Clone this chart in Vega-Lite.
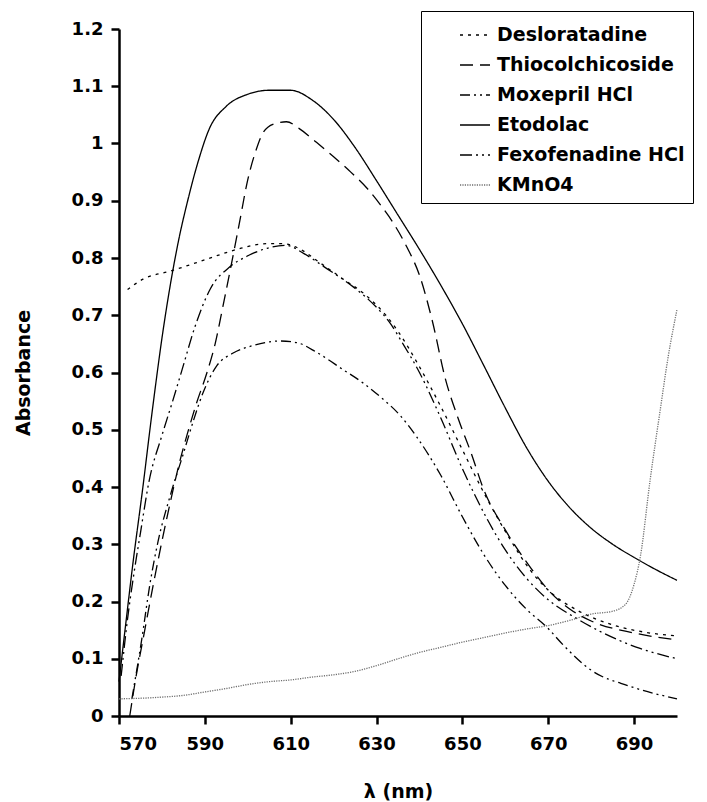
{
  "$schema": "https://vega.github.io/schema/vega-lite/v6.json",
  "autosize": {"type": "none"},
  "padding": {"left": 119, "top": 29, "right": 30, "bottom": 86},
  "width": 558,
  "height": 687,
  "background": "white",
  "config": {
    "view": {"stroke": null},
    "axis": {
      "domainColor": "black", "domainWidth": 2.5, "tickColor": "black", "tickWidth": 2.5, "tickSize": 8,
      "labelFont": "DejaVu Sans", "labelFontWeight": "bold", "labelFontSize": 18, "labelColor": "black",
      "titleFont": "DejaVu Sans", "titleFontWeight": "bold", "titleFontSize": 19, "titleColor": "black",
      "grid": false
    },
    "legend": {
      "orient": "none", "legendX": 302, "legendY": -18,
      "strokeColor": "black", "fillColor": "white", "padding": 8,
      "symbolOffset": 30, "symbolSize": 900, "symbolType": "stroke", "labelOffset": 6,
      "labelFont": "DejaVu Sans", "labelFontWeight": "bold", "labelFontSize": 19, "labelColor": "black",
      "rowPadding": 4, "labelLimit": 400
    }
  },
  "data": {"values": [
    {"s":"Desloratadine","x":572,"y":0.745},{"s":"Desloratadine","x":575.6,"y":0.763},{"s":"Desloratadine","x":581.9,"y":0.777},{"s":"Desloratadine","x":588.1,"y":0.792},{"s":"Desloratadine","x":592.8,"y":0.804},{"s":"Desloratadine","x":598.9,"y":0.818},{"s":"Desloratadine","x":604.5,"y":0.825},{"s":"Desloratadine","x":608.2,"y":0.825},{"s":"Desloratadine","x":613,"y":0.812},{"s":"Desloratadine","x":616,"y":0.796},{"s":"Desloratadine","x":621.5,"y":0.767},{"s":"Desloratadine","x":627.8,"y":0.733},{"s":"Desloratadine","x":632.4,"y":0.698},{"s":"Desloratadine","x":635,"y":0.672},{"s":"Desloratadine","x":640,"y":0.61},{"s":"Desloratadine","x":645,"y":0.54},{"s":"Desloratadine","x":650,"y":0.465},{"s":"Desloratadine","x":655,"y":0.39},{"s":"Desloratadine","x":661,"y":0.31},{"s":"Desloratadine","x":666,"y":0.253},{"s":"Desloratadine","x":671,"y":0.213},{"s":"Desloratadine","x":676.7,"y":0.185},{"s":"Desloratadine","x":686,"y":0.157},{"s":"Desloratadine","x":692,"y":0.147},{"s":"Desloratadine","x":700,"y":0.14},
    {"s":"Thiocolchicoside","x":572.5,"y":0},{"s":"Thiocolchicoside","x":574,"y":0.07},{"s":"Thiocolchicoside","x":576,"y":0.15},{"s":"Thiocolchicoside","x":578,"y":0.23},{"s":"Thiocolchicoside","x":580,"y":0.305},{"s":"Thiocolchicoside","x":582,"y":0.375},{"s":"Thiocolchicoside","x":584,"y":0.44},{"s":"Thiocolchicoside","x":586,"y":0.495},{"s":"Thiocolchicoside","x":588,"y":0.545},{"s":"Thiocolchicoside","x":590.5,"y":0.6},{"s":"Thiocolchicoside","x":592.4,"y":0.65},{"s":"Thiocolchicoside","x":594.2,"y":0.715},{"s":"Thiocolchicoside","x":596.6,"y":0.805},{"s":"Thiocolchicoside","x":598.2,"y":0.867},{"s":"Thiocolchicoside","x":599.8,"y":0.93},{"s":"Thiocolchicoside","x":602,"y":0.99},{"s":"Thiocolchicoside","x":603.5,"y":1.018},{"s":"Thiocolchicoside","x":606,"y":1.034},{"s":"Thiocolchicoside","x":609,"y":1.038},{"s":"Thiocolchicoside","x":612,"y":1.026},{"s":"Thiocolchicoside","x":616,"y":1.002},{"s":"Thiocolchicoside","x":620,"y":0.977},{"s":"Thiocolchicoside","x":624,"y":0.95},{"s":"Thiocolchicoside","x":628,"y":0.92},{"s":"Thiocolchicoside","x":631,"y":0.892},{"s":"Thiocolchicoside","x":634,"y":0.86},{"s":"Thiocolchicoside","x":637,"y":0.82},{"s":"Thiocolchicoside","x":640,"y":0.77},{"s":"Thiocolchicoside","x":643,"y":0.69},{"s":"Thiocolchicoside","x":646,"y":0.59},{"s":"Thiocolchicoside","x":649,"y":0.52},{"s":"Thiocolchicoside","x":652,"y":0.46},{"s":"Thiocolchicoside","x":655,"y":0.395},{"s":"Thiocolchicoside","x":660,"y":0.325},{"s":"Thiocolchicoside","x":666,"y":0.258},{"s":"Thiocolchicoside","x":670,"y":0.22},{"s":"Thiocolchicoside","x":675,"y":0.187},{"s":"Thiocolchicoside","x":680,"y":0.166},{"s":"Thiocolchicoside","x":690,"y":0.145},{"s":"Thiocolchicoside","x":700,"y":0.133},
    {"s":"Moxepril HCl","x":573,"y":0.03},{"s":"Moxepril HCl","x":575.3,"y":0.134},{"s":"Moxepril HCl","x":577.2,"y":0.23},{"s":"Moxepril HCl","x":579.1,"y":0.305},{"s":"Moxepril HCl","x":581.9,"y":0.384},{"s":"Moxepril HCl","x":584.9,"y":0.456},{"s":"Moxepril HCl","x":587.3,"y":0.515},{"s":"Moxepril HCl","x":589.6,"y":0.565},{"s":"Moxepril HCl","x":592.8,"y":0.612},{"s":"Moxepril HCl","x":596.6,"y":0.634},{"s":"Moxepril HCl","x":601.2,"y":0.647},{"s":"Moxepril HCl","x":607.5,"y":0.655},{"s":"Moxepril HCl","x":611.5,"y":0.652},{"s":"Moxepril HCl","x":616.1,"y":0.635},{"s":"Moxepril HCl","x":622.2,"y":0.605},{"s":"Moxepril HCl","x":627,"y":0.581},{"s":"Moxepril HCl","x":630.8,"y":0.558},{"s":"Moxepril HCl","x":635.5,"y":0.525},{"s":"Moxepril HCl","x":639.4,"y":0.487},{"s":"Moxepril HCl","x":645,"y":0.42},{"s":"Moxepril HCl","x":650,"y":0.348},{"s":"Moxepril HCl","x":655,"y":0.282},{"s":"Moxepril HCl","x":660,"y":0.228},{"s":"Moxepril HCl","x":665,"y":0.186},{"s":"Moxepril HCl","x":669.7,"y":0.155},{"s":"Moxepril HCl","x":673.5,"y":0.124},{"s":"Moxepril HCl","x":680,"y":0.08},{"s":"Moxepril HCl","x":689,"y":0.052},{"s":"Moxepril HCl","x":700,"y":0.03},
    {"s":"Etodolac","x":570,"y":0.06},{"s":"Etodolac","x":571.4,"y":0.15},{"s":"Etodolac","x":573.3,"y":0.27},{"s":"Etodolac","x":575.4,"y":0.39},{"s":"Etodolac","x":577.7,"y":0.53},{"s":"Etodolac","x":580.3,"y":0.675},{"s":"Etodolac","x":582,"y":0.755},{"s":"Etodolac","x":584,"y":0.835},{"s":"Etodolac","x":586,"y":0.9},{"s":"Etodolac","x":588.5,"y":0.97},{"s":"Etodolac","x":591,"y":1.025},{"s":"Etodolac","x":595,"y":1.065},{"s":"Etodolac","x":600,"y":1.086},{"s":"Etodolac","x":605,"y":1.093},{"s":"Etodolac","x":610,"y":1.093},{"s":"Etodolac","x":615,"y":1.076},{"s":"Etodolac","x":620,"y":1.042},{"s":"Etodolac","x":625,"y":0.993},{"s":"Etodolac","x":630,"y":0.935},{"s":"Etodolac","x":635,"y":0.875},{"s":"Etodolac","x":640,"y":0.815},{"s":"Etodolac","x":645,"y":0.752},{"s":"Etodolac","x":650,"y":0.685},{"s":"Etodolac","x":655,"y":0.612},{"s":"Etodolac","x":660,"y":0.538},{"s":"Etodolac","x":665,"y":0.468},{"s":"Etodolac","x":670,"y":0.41},{"s":"Etodolac","x":675,"y":0.364},{"s":"Etodolac","x":680,"y":0.328},{"s":"Etodolac","x":685,"y":0.3},{"s":"Etodolac","x":690,"y":0.277},{"s":"Etodolac","x":695,"y":0.256},{"s":"Etodolac","x":700,"y":0.237},
    {"s":"Fexofenadine HCl","x":570.5,"y":0.07},{"s":"Fexofenadine HCl","x":572,"y":0.17},{"s":"Fexofenadine HCl","x":573.5,"y":0.25},{"s":"Fexofenadine HCl","x":575,"y":0.32},{"s":"Fexofenadine HCl","x":577,"y":0.41},{"s":"Fexofenadine HCl","x":580,"y":0.49},{"s":"Fexofenadine HCl","x":582.5,"y":0.55},{"s":"Fexofenadine HCl","x":584.7,"y":0.605},{"s":"Fexofenadine HCl","x":587.7,"y":0.68},{"s":"Fexofenadine HCl","x":591.2,"y":0.745},{"s":"Fexofenadine HCl","x":595.9,"y":0.785},{"s":"Fexofenadine HCl","x":599.8,"y":0.803},{"s":"Fexofenadine HCl","x":604.5,"y":0.817},{"s":"Fexofenadine HCl","x":609.1,"y":0.822},{"s":"Fexofenadine HCl","x":613,"y":0.808},{"s":"Fexofenadine HCl","x":618.5,"y":0.781},{"s":"Fexofenadine HCl","x":624.5,"y":0.75},{"s":"Fexofenadine HCl","x":630.1,"y":0.713},{"s":"Fexofenadine HCl","x":633,"y":0.688},{"s":"Fexofenadine HCl","x":636,"y":0.652},{"s":"Fexofenadine HCl","x":640,"y":0.6},{"s":"Fexofenadine HCl","x":645,"y":0.52},{"s":"Fexofenadine HCl","x":650,"y":0.432},{"s":"Fexofenadine HCl","x":655.7,"y":0.345},{"s":"Fexofenadine HCl","x":660,"y":0.29},{"s":"Fexofenadine HCl","x":665,"y":0.24},{"s":"Fexofenadine HCl","x":670,"y":0.203},{"s":"Fexofenadine HCl","x":676.7,"y":0.17},{"s":"Fexofenadine HCl","x":682,"y":0.148},{"s":"Fexofenadine HCl","x":691.4,"y":0.118},{"s":"Fexofenadine HCl","x":700,"y":0.1},
    {"s":"KMnO4","x":570,"y":0.03},{"s":"KMnO4","x":575,"y":0.031},{"s":"KMnO4","x":580,"y":0.033},{"s":"KMnO4","x":585,"y":0.036},{"s":"KMnO4","x":590,"y":0.042},{"s":"KMnO4","x":595,"y":0.048},{"s":"KMnO4","x":600,"y":0.055},{"s":"KMnO4","x":605,"y":0.06},{"s":"KMnO4","x":610,"y":0.063},{"s":"KMnO4","x":615,"y":0.068},{"s":"KMnO4","x":620,"y":0.072},{"s":"KMnO4","x":625,"y":0.078},{"s":"KMnO4","x":630,"y":0.088},{"s":"KMnO4","x":635,"y":0.1},{"s":"KMnO4","x":640,"y":0.111},{"s":"KMnO4","x":645,"y":0.12},{"s":"KMnO4","x":650,"y":0.129},{"s":"KMnO4","x":655,"y":0.137},{"s":"KMnO4","x":660,"y":0.145},{"s":"KMnO4","x":665,"y":0.152},{"s":"KMnO4","x":670,"y":0.158},{"s":"KMnO4","x":675,"y":0.167},{"s":"KMnO4","x":680,"y":0.178},{"s":"KMnO4","x":685,"y":0.183},{"s":"KMnO4","x":688,"y":0.195},{"s":"KMnO4","x":690,"y":0.23},{"s":"KMnO4","x":691.5,"y":0.28},{"s":"KMnO4","x":693.7,"y":0.41},{"s":"KMnO4","x":696,"y":0.53},{"s":"KMnO4","x":698,"y":0.63},{"s":"KMnO4","x":700,"y":0.71}
  ]},
  "mark": {"type": "line", "interpolate": "monotone"},
  "encoding": {
    "x": {"field": "x", "type": "quantitative", "scale": {"domain": [570, 700], "nice": false, "zero": false},
      "axis": {"values": [570, 590, 610, 630, 650, 670, 690], "title": "λ (nm)", "labelPadding": 11, "titlePadding": 29}},
    "y": {"field": "y", "type": "quantitative", "scale": {"domain": [0, 1.2], "nice": false},
      "axis": {"values": [0, 0.1, 0.2, 0.3, 0.4, 0.5, 0.6, 0.7, 0.8, 0.9, 1, 1.1, 1.2], "format": ".1~f", "title": "Absorbance", "labelPadding": 8, "titlePadding": 38}},
    "color": {"field": "s", "type": "nominal", "legend": {"title": null},
      "scale": {"domain": ["Desloratadine", "Thiocolchicoside", "Moxepril HCl", "Etodolac", "Fexofenadine HCl", "KMnO4"],
        "range": ["#000000", "#000000", "#000000", "#000000", "#000000", "#6e6e6e"]}},
    "strokeDash": {"field": "s", "type": "nominal", "legend": {"title": null},
      "scale": {"domain": ["Desloratadine", "Thiocolchicoside", "Moxepril HCl", "Etodolac", "Fexofenadine HCl", "KMnO4"],
        "range": [[3, 5], [13, 7], [10, 4, 2, 4, 2, 4], [1, 0], [12, 4, 2, 4, 2, 4], [1.2, 1.2]]}},
    "strokeWidth": {"field": "s", "type": "nominal", "legend": {"title": null},
      "scale": {"domain": ["Desloratadine", "Thiocolchicoside", "Moxepril HCl", "Etodolac", "Fexofenadine HCl", "KMnO4"],
        "range": [1.3, 1.3, 1.3, 1.3, 2.2, 1.4]}}
  }
}
